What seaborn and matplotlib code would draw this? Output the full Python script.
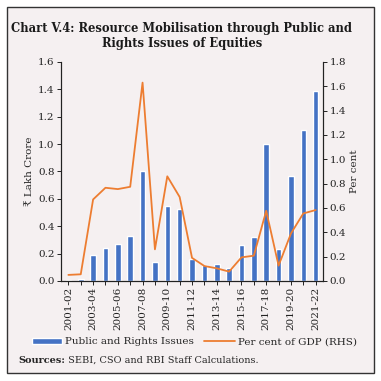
import numpy as np
import pandas as pd
import matplotlib
matplotlib.use("Agg")
import matplotlib.pyplot as plt
from matplotlib.patches import Rectangle
import seaborn as sns

sns.set_style("ticks")
plt.rcParams['font.family'] = ['DejaVu Serif', 'DejaVu Sans']

# data
years = ['2001-02', '2002-03', '2003-04', '2004-05', '2005-06', '2006-07', '2007-08',
         '2008-09', '2009-10', '2010-11', '2011-12', '2012-13', '2013-14', '2014-15',
         '2015-16', '2016-17', '2017-18', '2018-19', '2019-20', '2020-21', '2021-22']
issues = [0.01, 0.015, 0.19, 0.24, 0.27, 0.33, 0.80, 0.14, 0.55, 0.525, 0.163,
          0.117, 0.122, 0.092, 0.263, 0.324, 1.0, 0.236, 0.77, 1.10, 1.39]
pct_gdp = [0.05, 0.055, 0.67, 0.766, 0.755, 0.774, 1.63, 0.26, 0.86, 0.69, 0.19,
           0.123, 0.104, 0.077, 0.194, 0.208, 0.577, 0.126, 0.39, 0.555, 0.583]

BLUE = '#4472c4'
ORANGE = '#ed7d31'
BG = '#f5f0f1'

df = pd.DataFrame({'year': years, 'issues': issues, 'pct': pct_gdp})
df['pos'] = np.arange(len(df))

fig = plt.figure(figsize=(3.81, 3.81), dpi=100)
fig.patch.set_facecolor('white')
fig.patches.append(Rectangle((7 / 381, 8 / 381), 367 / 381, 366 / 381, transform=fig.transFigure,
                             facecolor=BG, edgecolor='#333333', lw=1.0, zorder=-1))

ax = fig.add_axes([0.160, 0.2625, 0.688, 0.575])
ax.set_facecolor('none')
sns.barplot(data=df, x='pos', y='issues', color=BLUE, width=0.45, ax=ax,
            label='Public and Rights Issues', saturation=1, legend=False)
ax.set_ylim(0, 1.6)
ax.set_yticks(np.arange(0, 1.61, 0.2))
ax.set_yticklabels([f'{v:.1f}' for v in np.arange(0, 1.61, 0.2)])
ax.set_xlim(-0.6, len(years) - 0.4)
ax.set_xticks(np.arange(len(years)))
ax.set_xticklabels([y if i % 2 == 0 else '' for i, y in enumerate(years)], rotation=90)
ax.set_xlabel('')
ax.set_ylabel('₹ Lakh Crore', fontsize=7.5, labelpad=3)

ax2 = ax.twinx()
sns.lineplot(data=df, x='pos', y='pct', color=ORANGE, lw=1.3, ax=ax2,
             label='Per cent of GDP (RHS)', legend=False)
ax2.set_ylim(0, 1.8)
ax2.set_yticks(np.arange(0, 1.81, 0.2))
ax2.set_yticklabels([f'{v:.1f}' for v in np.arange(0, 1.81, 0.2)])
ax2.set_ylabel('Per cent', fontsize=7.5, labelpad=3)
ax2.set_xlabel('')

for a in (ax, ax2):
    a.spines['top'].set_visible(False)
    a.tick_params(labelsize=7.5, length=3, width=0.7, pad=1.5, colors='#222222')
    for s in a.spines.values():
        s.set_linewidth(0.8)
        s.set_color('#222222')

fig.text(0.477, 0.905, 'Chart V.4: Resource Mobilisation through Public and\nRights Issues of Equities',
         ha='center', va='center', fontsize=8.3, fontweight='bold', linespacing=1.2, color='#1a1a1a')

h1, l1 = ax.get_legend_handles_labels()
h2, l2 = ax2.get_legend_handles_labels()
fig.legend(h1 + h2, l1 + l2, loc='center', bbox_to_anchor=(0.51, 0.103), ncol=2, frameon=False,
           fontsize=7.5, handlelength=2.9, handleheight=0.5, columnspacing=1.0, handletextpad=0.3)

t1 = fig.text(18 / 381, 0.055, 'Sources:', fontsize=7, fontweight='bold', va='center')
ax.annotate(' SEBI, CSO and RBI Staff Calculations.', xy=(1, 0), xycoords=t1, va='bottom',
            fontsize=7, annotation_clip=False)

fig.savefig('out.png', dpi=100, facecolor=fig.get_facecolor())
